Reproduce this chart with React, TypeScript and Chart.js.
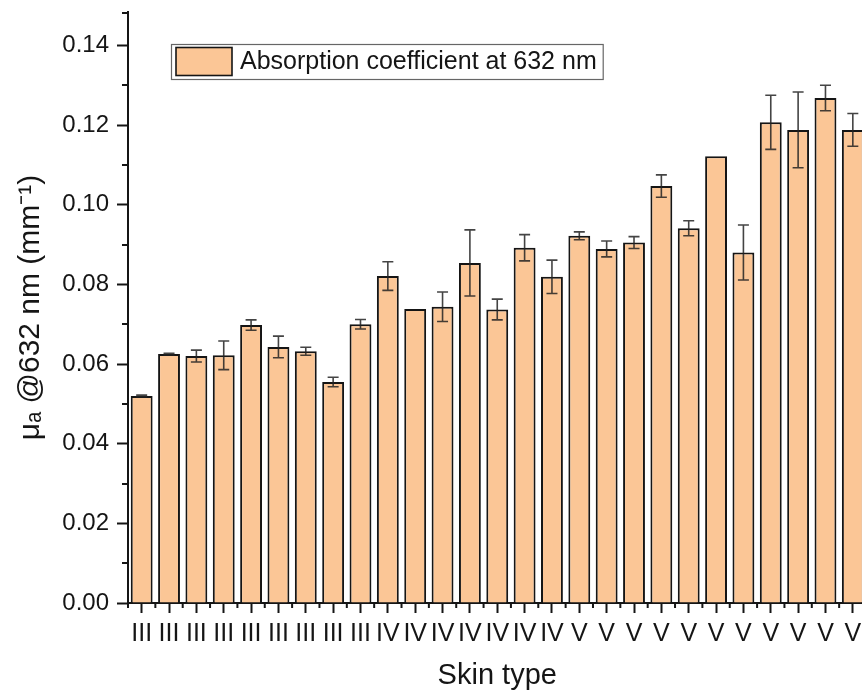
import React, { useEffect, useRef } from "react";
import { Chart, registerables } from "chart.js";

Chart.register(...registerables);

const skinTypes = [
  "III", "III", "III", "III", "III", "III", "III", "III", "III",
  "IV", "IV", "IV", "IV", "IV", "IV", "IV",
  "V", "V", "V", "V", "V", "V", "V", "V", "V", "V", "V",
];
const absorption = [
  0.052, 0.0625, 0.062, 0.0622, 0.0698, 0.0643, 0.0632, 0.0555, 0.07,
  0.0821, 0.0738, 0.0744, 0.0854, 0.0737, 0.0892, 0.0819,
  0.0922, 0.0889, 0.0905, 0.1047, 0.0941, 0.1122, 0.088, 0.1207, 0.1188, 0.1268, 0.1188,
];
const errors = [
  0.0002, 0.0002, 0.0015, 0.0036, 0.0013, 0.0027, 0.001, 0.0012, 0.0012,
  0.0036, 0, 0.0037, 0.0083, 0.0026, 0.0033, 0.0042,
  0.001, 0.002, 0.0015, 0.0028, 0.0019, 0, 0.0069, 0.0068, 0.0095, 0.0032, 0.0041,
];
const seriesLabel = "Absorption coefficient at 632 nm";
const yMin = 0;
const yMax = 0.1484;
const yStep = 0.02;
const yMinorStep = 0.01;

const FONT = "'Liberation Sans', Arial, Helvetica, sans-serif";
const INK = "#151515";
const FILL = "rgb(251, 198, 150)";

const errorBarPlugin = {
  id: "errorBars",
  afterDatasetsDraw(chart: any) {
    const { ctx } = chart;
    const y = chart.scales.y;
    const meta = chart.getDatasetMeta(0);
    ctx.save();
    ctx.strokeStyle = "rgba(35,35,35,0.85)";
    ctx.lineWidth = 1.6;
    meta.data.forEach((bar: any, i: number) => {
      const e = errors[i];
      if (!e) return;
      const v = absorption[i];
      const top = y.getPixelForValue(v + e);
      const bot = y.getPixelForValue(v - e);
      const cx = bar.x;
      const half = 5.5;
      ctx.beginPath();
      ctx.moveTo(cx, top);
      ctx.lineTo(cx, bot);
      ctx.moveTo(cx - half, top);
      ctx.lineTo(cx + half, top);
      ctx.moveTo(cx - half, bot);
      ctx.lineTo(cx + half, bot);
      ctx.stroke();
    });
    ctx.restore();
  },
};

const minorTicksPlugin = {
  id: "minorTicks",
  afterDraw(chart: any) {
    const { ctx, chartArea } = chart;
    const x = chart.scales.x;
    const y = chart.scales.y;
    ctx.save();
    ctx.strokeStyle = INK;
    ctx.lineWidth = 2;
    ctx.beginPath();
    for (let k = 0; yMinorStep + k * yStep < yMax; k++) {
      const py = Math.round(y.getPixelForValue(yMinorStep + k * yStep));
      ctx.moveTo(chartArea.left - 6, py);
      ctx.lineTo(chartArea.left, py);
    }
    const topY = y.getPixelForValue(yMax);
    ctx.moveTo(chartArea.left - 6, topY + 1);
    ctx.lineTo(chartArea.left, topY + 1);
    const n = skinTypes.length;
    for (let i = 0; i <= n; i++) {
      let px: number;
      if (i === 0) px = x.getPixelForValue(0) - (x.getPixelForValue(1) - x.getPixelForValue(0)) / 2;
      else if (i === n) px = x.getPixelForValue(n - 1) + (x.getPixelForValue(n - 1) - x.getPixelForValue(n - 2)) / 2;
      else px = (x.getPixelForValue(i - 1) + x.getPixelForValue(i)) / 2;
      ctx.moveTo(px, chartArea.bottom);
      ctx.lineTo(px, chartArea.bottom + 5);
    }
    ctx.stroke();
    ctx.restore();
  },
};

const boxedLegendPlugin = {
  id: "boxedLegend",
  afterDraw(chart: any) {
    const { ctx, chartArea } = chart;
    const ds = chart.data.datasets[0];
    const fontSize = 25;
    ctx.save();
    ctx.font = `${fontSize}px ${FONT}`;
    const textW = ctx.measureText(ds.label).width;
    const left = chartArea.left + 43;
    const top = chartArea.top + 32;
    const swW = 56;
    const swH = 28;
    const pad = 5;
    const gap = 8;
    const boxW = pad + swW + gap + textW + 6;
    const boxH = 35;
    ctx.fillStyle = "#ffffff";
    ctx.fillRect(left, top, boxW, boxH);
    ctx.strokeStyle = "#666";
    ctx.lineWidth = 1.2;
    ctx.strokeRect(left + 0.5, top + 0.5, boxW, boxH);
    ctx.fillStyle = ds.backgroundColor;
    ctx.fillRect(left + pad, top + (boxH - swH) / 2, swW, swH);
    ctx.strokeStyle = INK;
    ctx.lineWidth = 1.6;
    ctx.strokeRect(left + pad, top + (boxH - swH) / 2, swW, swH);
    ctx.fillStyle = INK;
    ctx.textBaseline = "middle";
    ctx.textAlign = "left";
    ctx.fillText(ds.label, left + pad + swW + gap, top + boxH / 2 + 1);
    ctx.restore();
  },
};

export default function App() {
  const canvasRef = useRef<HTMLCanvasElement | null>(null);

  useEffect(() => {
    const canvas = canvasRef.current;
    if (!canvas) return;
    const chart = new Chart(canvas, {
      type: "bar",
      data: {
        labels: skinTypes,
        datasets: [
          {
            label: seriesLabel,
            data: absorption,
            backgroundColor: FILL,
            borderColor: INK,
            borderWidth: 2,
            barPercentage: 0.8,
            categoryPercentage: 1,
          },
        ],
      },
      options: {
        responsive: false,
        animation: false,
        devicePixelRatio: 1,
        layout: { padding: { top: 12, right: 5.5, left: 0, bottom: 0 } },
        plugins: {
          legend: { display: false },
          tooltip: { enabled: false },
          title: { display: false },
        },
        scales: {
          x: {
            type: "category",
            grid: {
              display: true,
              drawOnChartArea: false,
              drawTicks: true,
              tickLength: 10,
              tickWidth: 2,
              tickColor: INK,
              offset: false,
            },
            border: { display: true, color: INK, width: 2 },
            ticks: {
              color: INK,
              font: { family: FONT, size: 25 },
              padding: 6,
              maxRotation: 0,
              minRotation: 0,
              autoSkip: false,
            },
            title: {
              display: true,
              text: "Skin type",
              color: INK,
              font: { family: FONT, size: 29 },
              padding: { top: 0, bottom: 5 },
            },
            afterFit(scale: any) {
              scale.height = 95;
              scale.paddingLeft = 0;
              scale.paddingRight = 0;
            },
          },
          y: {
            type: "linear",
            min: yMin,
            max: yMax,
            grid: {
              display: true,
              drawOnChartArea: false,
              drawTicks: true,
              tickLength: 11,
              tickWidth: 2,
              tickColor: INK,
            },
            border: { display: true, color: INK, width: 2 },
            ticks: {
              stepSize: yStep,
              includeBounds: false,
              color: INK,
              font: { family: FONT, size: 24 },
              padding: 8,
              callback: (v: any) => Number(v).toFixed(2),
            },
            title: {
              display: true,
              text: "μₐ @632 nm (mm⁻¹)",
              color: INK,
              font: { family: FONT, size: 30 },
              padding: { top: 13, bottom: 0 },
            },
            afterFit(scale: any) {
              scale.width = 128;
              scale.paddingTop = 0;
              scale.paddingBottom = 0;
            },
          },
        },
      },
      plugins: [errorBarPlugin, minorTicksPlugin, boxedLegendPlugin],
    });
    return () => chart.destroy();
  }, []);

  return (
    <div
      style={{
        position: "fixed",
        left: 0,
        top: 0,
        width: 862,
        height: 698,
        overflow: "hidden",
        background: "#fff",
      }}
    >
      <canvas ref={canvasRef} width={872} height={698} style={{ display: "block" }} />
    </div>
  );
}
